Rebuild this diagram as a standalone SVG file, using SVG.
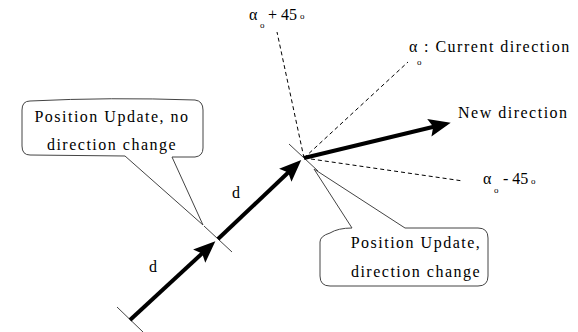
<svg xmlns="http://www.w3.org/2000/svg" width="578" height="332" viewBox="0 0 578 332">
<style>
text{font-family:"Liberation Serif","Times New Roman",serif;fill:#000}
.t{font-size:16px;letter-spacing:1.5px}
.n{font-size:16px}
.c{text-anchor:middle}
.s{font-size:9px}
.thin{fill:none;stroke:#444;stroke-width:1}
.call{fill:#fff;stroke:#444;stroke-width:1}
.dash{fill:none;stroke:#000;stroke-width:1;stroke-dasharray:4 3}
.bold{fill:none;stroke:#000;stroke-width:4;marker-end:url(#ah)}
</style>
<defs>
<marker id="ah" markerUnits="userSpaceOnUse" viewBox="0 0 22 18" refX="12" refY="9" markerWidth="22" markerHeight="18" orient="auto">
<path d="M0,0 L22,9 L0,18 L4,9 Z" fill="#000"/>
</marker>
</defs>
<rect width="578" height="332" fill="#fff"/>
<g id="connectors">
<line class="dash" x1="304" y1="158" x2="277" y2="32"/>
<line class="dash" x1="304" y1="158" x2="408" y2="62"/>
<line class="dash" x1="304" y1="158" x2="463" y2="181"/>
<line class="thin" x1="117" y1="307" x2="143" y2="332"/>
<line class="thin" x1="204" y1="226" x2="232" y2="252"/>
<line class="thin" x1="289" y1="144" x2="318" y2="171"/>
<line class="bold" x1="130" y1="320" x2="208" y2="248"/>
<line class="bold" x1="218" y1="239" x2="294" y2="167"/>
<line class="bold" x1="304" y1="158" x2="441" y2="125"/>
</g>
<g id="callout-no-change">
<path class="call" d="M30,101 Q110,97 195,100 Q203,101 203,110 L203,148 Q203,156 195,157 L172,157 L203,225 L125,156 L30,155 Q22,155 22,146 L22,110 Q22,101 30,101 Z"/>
<text class="t c" x="112" y="122">Position Update, no</text>
<text class="t c" x="112" y="150">direction change</text>
</g>
<g id="callout-change">
<path class="call" d="M330,233 Q338,228 352,228 L314,169 L405,228 L478,228 Q488,228 488,238 L488,276 Q488,286 478,286 L330,286 Q320,286 320,276 L320,242 Q320,236 330,233 Z"/>
<text class="t c" x="416" y="248">Position Update,</text>
<text class="t c" x="416" y="277">direction change</text>
</g>
<g id="label-plus45">
<text class="n" x="249" y="20">α</text>
<text class="s" x="260" y="28">o</text>
<text class="n" x="268" y="20">+ 45</text>
<text class="s" x="300" y="19">o</text>
</g>
<g id="label-current">
<text class="n" x="409" y="52">α</text>
<text class="s" x="417" y="65">o</text>
<text class="t" x="424" y="52">: Current direction</text>
</g>
<g id="label-minus45">
<text class="n" x="483" y="184">α</text>
<text class="s" x="494" y="193">o</text>
<text class="n" x="503" y="184">- 45</text>
<text class="s" x="531" y="184">o</text>
</g>
<g id="label-new">
<text class="t" x="458" y="118">New direction</text>
</g>
<g id="label-d1">
<text class="n" x="232" y="198">d</text>
</g>
<g id="label-d2">
<text class="n" x="149" y="272">d</text>
</g>
</svg>
